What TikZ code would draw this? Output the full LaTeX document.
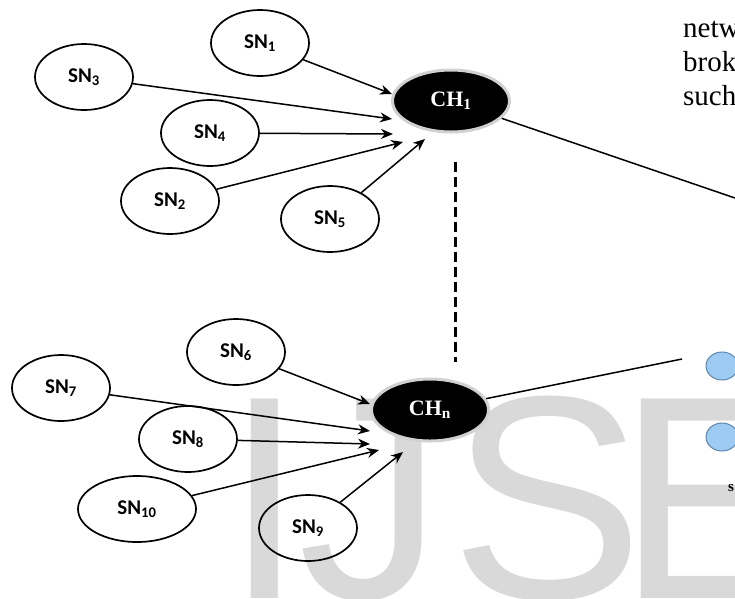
\documentclass[tikz,border=0pt]{standalone}
\usepackage{fontspec}
\setmainfont{Liberation Serif}
\newfontfamily\snfont{Carlito}
\newfontfamily\wmfont{Liberation Sans}
\usetikzlibrary{shapes.geometric,arrows.meta,calc}
\definecolor{nodeblue}{HTML}{9DCBF2}
\definecolor{nodeedge}{HTML}{5B86AE}
\begin{document}
\begin{tikzpicture}[x=1pt,y=-1pt]

    \tikzset{
      sensor/.style={
        draw,
        line width=1.7pt,
        ellipse,
        inner sep=0pt,
        minimum width=98pt,
        minimum height=66pt,
        font=\snfont\bfseries\fontsize{21}{21}\selectfont,
      },
      head/.style={
        ellipse,
        fill=black,
        draw=black!18,
        line width=3pt,
        text=white,
        inner sep=0pt,
        minimum width=117pt,
        minimum height=62pt,
        font=\bfseries\fontsize{22}{22}\selectfont,
      },
      link/.style={
        line width=1.5pt,
        -{Stealth[length=12pt,width=10pt]},
      },
    }
    \useasboundingbox (0,0) rectangle (735,598);
    \clip (0,0) rectangle (735,598);
    \foreach \ch/\xx in {I/224,J/298,S/450,E/617}
    	\node[anchor=base west,inner sep=0pt,text=black!15,font=\wmfont\fontsize{290}{290}\selectfont] (wm\ch) at (\xx,598) {\ch};
	\node[anchor=base west,inner sep=0pt,font=\fontsize{29}{29}\selectfont] (txa) at (683,37) {netw};
	\node[anchor=base west,inner sep=0pt,font=\fontsize{29}{29}\selectfont] (txb) at (683,71) {brok};
	\node[anchor=base west,inner sep=0pt,font=\fontsize{29}{29}\selectfont] (txc) at (683,105) {such};

	\node[head] (ch1) at (451,101) {CH\textsubscript{1}};
	\node[head] (chn) at (430,410) {CH\textsubscript{n}};

	\node[sensor] (sn1) at (260,43) {SN\textsubscript{1}};
	\node[sensor] (sn3) at (84,77) {SN\textsubscript{3}};
	\node[sensor] (sn4) at (210,133) {SN\textsubscript{4}};
	\node[sensor] (sn2) at (170,201) {SN\textsubscript{2}};
	\node[sensor] (sn5) at (330,219) {SN\textsubscript{5}};
	\node[sensor] (sn6) at (236,352) {SN\textsubscript{6}};
	\node[sensor] (sn7) at (61,388) {SN\textsubscript{7}};
	\node[sensor] (sn8) at (188,439) {SN\textsubscript{8}};
	\node[sensor,minimum width=118pt] (sn10) at (137,509) {SN\textsubscript{10}};
	\node[sensor] (sn9) at (308,528) {SN\textsubscript{9}};

	\draw[link] (sn1) -- ($(ch1)+(-59,-7)$);
	\draw[link] (sn3) -- ($(ch1)+(-59,18)$);
	\draw[link] (sn4) -- ($(ch1)+(-58,33)$);
	\draw[link] (sn2) -- ($(ch1)+(-48,41)$);
	\draw[link] (sn5) -- ($(ch1)+(-26,38)$);

	\draw[link] (sn6) -- ($(chn)+(-60,-6)$);
	\draw[link] (sn7) -- ($(chn)+(-60,21)$);
	\draw[link] (sn8) -- ($(chn)+(-60,34)$);
	\draw[link] (sn10) -- ($(chn)+(-51,40)$);
	\draw[link] (sn9) -- ($(chn)+(-27,42)$);

	\draw[line width=3pt,dash pattern=on 10pt off 5pt] ($(ch1)+(4,61)$) -- ($(chn)+(25,-48)$);

	\coordinate (out1) at (735,198);
	\coordinate (out2) at (682,359);
	\draw[line width=1.5pt] (ch1) -- (out1);
	\draw[line width=1.5pt] (chn) -- (out2);

	\node[ellipse,draw=nodeedge,fill=nodeblue,line width=1pt,minimum width=32pt,minimum height=28pt] (bl1) at (722,366) {};
	\node[ellipse,draw=nodeedge,fill=nodeblue,line width=1pt,minimum width=32pt,minimum height=28pt] (bl2) at (722,437) {};
	\node[font=\bfseries\fontsize{15}{15}\selectfont,inner sep=0pt] (txs) at (731,488) {s};

\end{tikzpicture}
\end{document}
